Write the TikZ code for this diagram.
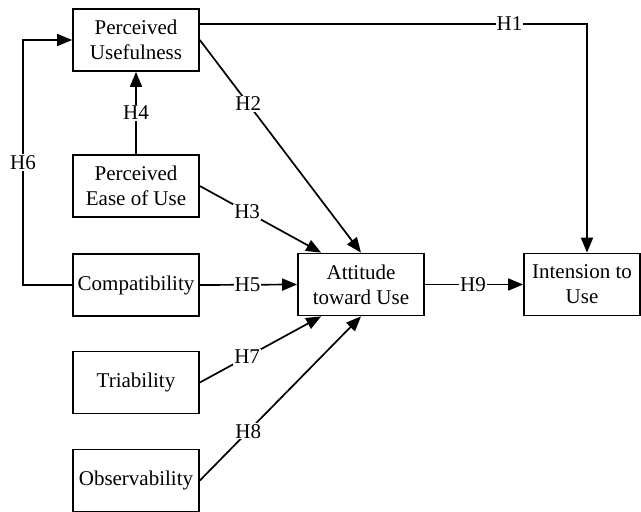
\documentclass[tikz,border=0pt]{standalone}
\usepackage{fontspec}
\setmainfont{Liberation Serif}
\usetikzlibrary{arrows.meta}
\begin{document}
\begin{tikzpicture}[x=1pt,y=-1pt,
  box/.style={draw,line width=1.7pt,minimum width=126pt,minimum height=62pt,align=center,inner sep=1pt,
    font=\fontsize{21}{25}\selectfont},
  conn/.style={line width=1.7pt},
  arr/.style={conn,-{Triangle[length=15pt,width=12pt]}},
  lab/.style={fill=white,inner sep=1pt,font=\fontsize{21}{25}\selectfont}]
\useasboundingbox (0,0) rectangle (641,512);
\node[box] (PU) at (136,40) {Perceived\\Usefulness};
\node[box] (PE) at (136,186) {Perceived\\Ease of Use};
\node[box] (CO) at (136,285) {Compatibility};
\node[box] (TR) at (136,382.5) {Triability};
\node[box] (OB) at (136,480.5) {Observability};
\node[box] (AT) at (361,284.5) {Attitude\\toward Use};
\node[box,minimum width=116pt] (IN) at (582,284.5) {Intension to\\Use};
% H1
\draw[arr] ([yshift=16pt]PU.east) -| node[lab,pos=0.4]{H1} ([xshift=5pt]IN.north);
% H2
\draw[arr] (PU.east) -- node[lab,pos=0.3]{H2} (AT.north);
% H3
\draw[arr] (PE.east) -- node[lab,pos=0.39]{H3} ([xshift=24pt]AT.north west);
% H4
\draw[arr] (PE.north) -- node[lab]{H4} (PU.south);
% H5
\draw[arr] (CO.east) -- node[lab,pos=0.49]{H5} (AT.west);
% H6
\coordinate (c6) at (23,285);
\draw[arr] (CO.west) -- (c6) |- node[lab,pos=0.25]{H6} (PU.west);
% H7
\draw[arr] (TR.east) -- node[lab,pos=0.39]{H7} ([xshift=24pt]AT.south west);
% H8
\draw[arr] (OB.east) -- node[lab,pos=0.3]{H8} (AT.south);
% H9
\draw[arr] (AT.east) -- node[lab,pos=0.49]{H9} (IN.west);
\end{tikzpicture}
\end{document}
